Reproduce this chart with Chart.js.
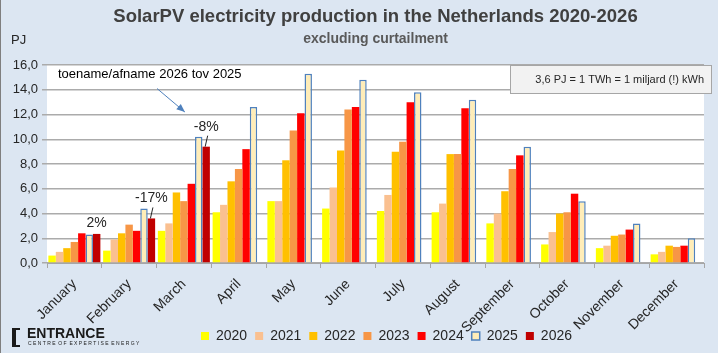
<!DOCTYPE html>
<html>
<head>
<meta charset="utf-8">
<script src="https://cdn.jsdelivr.net/npm/chart.js@4"></script>
<style>
  html, body { margin: 0; padding: 0; background: #dce6f2; }
  #wrap { width: 718px; height: 353px; position: relative; box-sizing: border-box; border-left: 1px solid #7f7f7f; }
</style>
</head>
<body>
<div id="wrap"><canvas id="solar-chart" width="717" height="353"></canvas></div>
<script>
// Data (PJ per month)
var months = ['January', 'February', 'March', 'April', 'May', 'June', 'July', 'August', 'September', 'October', 'November', 'December'];
var years = ['2020', '2021', '2022', '2023', '2024', '2025', '2026'];
var v2020 = [0.6, 1.0, 2.6, 4.1, 5.0, 4.4, 4.2, 4.1, 3.2, 1.5, 1.2, 0.7];
var v2021 = [0.9, 1.9, 3.2, 4.7, 5.0, 6.1, 5.5, 4.8, 4.0, 2.5, 1.4, 0.9];
var v2022 = [1.2, 2.4, 5.7, 6.6, 8.3, 9.1, 9.0, 8.8, 5.8, 4.0, 2.2, 1.4];
var v2023 = [1.7, 3.1, 5.0, 7.6, 10.7, 12.4, 9.8, 8.8, 7.6, 4.1, 2.3, 1.3];
var v2024 = [2.4, 2.6, 6.4, 9.2, 12.1, 12.6, 13.0, 12.5, 8.7, 5.6, 2.7, 1.4];
var v2025 = [2.3, 4.4, 10.2, 12.6, 15.3, 14.8, 13.8, 13.2, 9.4, 5.0, 3.2, 2.0];
var v2026 = [2.35, 3.6, 9.4, null, null, null, null, null, null, null, null, null];
var changeLabels = ['2%', '-17%', '-8%'];
var yTicks = [0, 2, 4, 6, 8, 10, 12, 14, 16];

var fontFam = "'Liberation Sans', Arial, sans-serif";

// plot area white + the extra texts
var extras = {
    id: 'extras',
    beforeDraw: function (chart) {
        var c = chart.ctx, a = chart.chartArea;
        c.save();
        c.fillStyle = '#dce6f2';
        c.fillRect(0, 0, chart.width, chart.height);
        c.fillStyle = '#ffffff';
        c.fillRect(a.left, a.top, a.right - a.left, a.bottom - a.top);
        c.restore();
    },
    afterLayout: function (chart) {
        // legend sits right of centre in the original
        chart.legend.left += 32;
        chart.legend.right += 32;
        // month labels may run down into the legend band
        chart.scales.x.bottom = chart.height;
    },
    afterDatasetsDraw: function (chart) {
        var c = chart.ctx, a = chart.chartArea;
        var xs = chart.scales.x, ys = chart.scales.y;
        c.save();
        c.fillStyle = '#262626';
        c.font = '13px ' + fontFam;
        c.textAlign = 'left';
        c.textBaseline = 'middle';
        c.fillText('PJ', 10, 40);

        // change labels above the 2026 bars
        var meta = chart.getDatasetMeta(6);
        c.font = '14px ' + fontFam;
        c.textAlign = 'center';
        c.strokeStyle = '#262626';
        c.lineWidth = 1;
        for (var i = 0; i < changeLabels.length; i++) {
            var bar = meta.data[i];
            var ty = i === 0 ? bar.y - 11 : bar.y - 20;
            c.fillText(changeLabels[i], bar.x, ty);
            if (i > 0) {
                c.beginPath();
                c.moveTo(bar.x + 1.5, ty + 9);
                c.lineTo(bar.x - 1, bar.y);
                c.stroke();
            }
        }

        // note + arrow
        c.font = '13px ' + fontFam;
        c.textAlign = 'left';
        c.fillStyle = '#000000';
        c.fillText('toename/afname 2026 tov 2025', a.left + 11, ys.getPixelForValue(15.2));
        var x1 = a.left + 110, y1 = ys.getPixelForValue(14.1);
        var x2 = xs.getPixelForValue(2) + 1, y2 = ys.getPixelForValue(12.2);
        c.strokeStyle = '#4f81bd';
        c.fillStyle = '#4f81bd';
        c.beginPath();
        c.moveTo(x1, y1);
        c.lineTo(x2, y2);
        c.stroke();
        var ang = Math.atan2(y2 - y1, x2 - x1);
        c.beginPath();
        c.moveTo(x2, y2);
        c.lineTo(x2 - 9 * Math.cos(ang - 0.4), y2 - 9 * Math.sin(ang - 0.4));
        c.lineTo(x2 - 9 * Math.cos(ang + 0.4), y2 - 9 * Math.sin(ang + 0.4));
        c.closePath();
        c.fill();

        // unit box
        c.fillStyle = '#f2f2f2';
        c.strokeStyle = '#a6a6a6';
        c.fillRect(509.5, 65.5, 201, 28);
        c.strokeRect(509.5, 65.5, 201, 28);
        c.fillStyle = '#262626';
        c.font = '11px ' + fontFam;
        c.textAlign = 'right';
        c.fillText('3,6 PJ = 1 TWh = 1 miljard (!) kWh', 703, 80);

        // logo
        c.fillStyle = '#1a1a1a';
        c.fillRect(11, 328, 4, 19);
        c.fillRect(11, 328, 8, 2);
        c.fillRect(11, 345, 8, 2);
        c.font = 'bold 14px ' + fontFam;
        c.textAlign = 'left';
        c.fillText('ENTRANCE', 26, 334);
        c.font = '5px ' + fontFam;
        c.fillText('C E N T R E  O F  E X P E R T I S E  E N E R G Y', 27, 344);
        c.restore();
    }
};

var colors = ['#ffff00', '#fac090', '#ffc000', '#f79646', '#ff0000', '#ffedb8', '#c00000'];
var series = [v2020, v2021, v2022, v2023, v2024, v2025, v2026];
var datasets = [];
for (var i = 0; i < years.length; i++) {
    datasets.push({
        label: years[i],
        data: series[i],
        backgroundColor: colors[i],
        borderColor: i === 5 ? '#4f81bd' : colors[i],
        borderWidth: i === 5 ? 1.5 : 0,
        barPercentage: 1.0,
        categoryPercentage: 0.95,
    });
}

var ctx = document.getElementById('solar-chart').getContext('2d');
var chart = new Chart(ctx, {
    type: 'bar',
    data: { labels: months, datasets: datasets },
    plugins: [extras],
    options: {
        responsive: false,
        animation: false,
        layout: { padding: { left: 4, right: 14, top: 4, bottom: 0 } },
        scales: {
            x: {
                grid: { display: true, drawOnChartArea: false, drawTicks: true, tickLength: 5, color: '#a6a6a6', offset: true },
                border: { color: '#a6a6a6' },
                ticks: {
                    minRotation: 45, maxRotation: 45,
                    color: '#262626',
                    font: { family: fontFam, size: 14 },
                    padding: 8,
                },
                afterFit: function (axis) { axis.height = 58; },
            },
            y: {
                min: 0, max: 16,
                afterBuildTicks: function (axis) {
                    axis.ticks = yTicks.map(function (v) { return { value: v }; });
                },
                grid: { color: '#ababab', lineWidth: 1.5, tickLength: 5 },
                border: { display: false },
                ticks: {
                    color: '#262626',
                    font: { family: fontFam, size: 13 },
                    padding: 4,
                    callback: function (v) { return v.toFixed(1).replace('.', ','); },
                },
                afterFit: function (axis) { axis.width = 42; },
            },
        },
        plugins: {
            title: {
                display: true,
                fullSize: false,
                text: 'SolarPV electricity production in the Netherlands 2020-2026',
                color: '#404040',
                font: { family: fontFam, size: 18.5, weight: 'bold' },
                padding: { top: 2, bottom: 3 },
            },
            subtitle: {
                display: true,
                fullSize: false,
                text: 'excluding curtailment',
                color: '#595959',
                font: { family: fontFam, size: 14, weight: 'bold' },
                padding: { top: 0, bottom: 17 },
            },
            legend: {
                position: 'bottom',
                labels: {
                    boxWidth: 8, boxHeight: 8,
                    color: '#262626',
                    font: { family: fontFam, size: 14 },
                    padding: 8,
                },
            },
            tooltip: { enabled: false },
        },
    },
});
</script>
</body>
</html>
